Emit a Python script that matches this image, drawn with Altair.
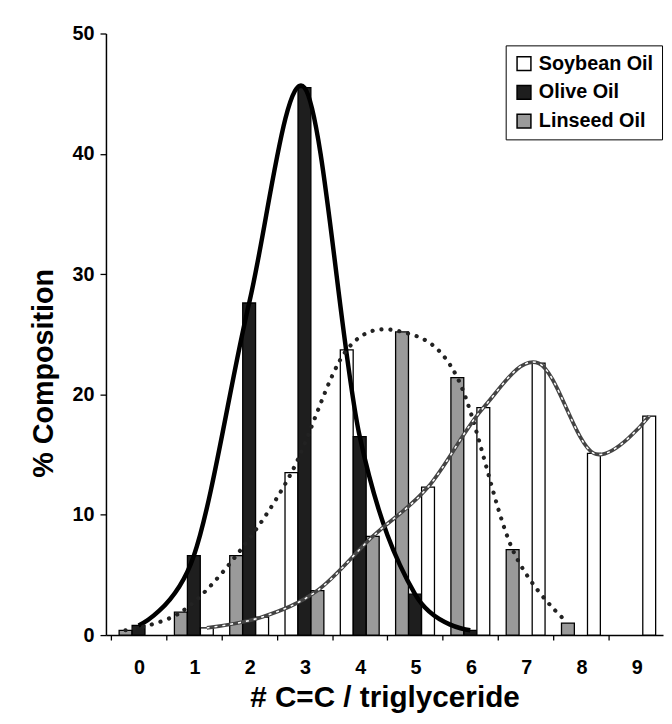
import altair as alt
import pandas as pd

# ---- data ----
categories = [0, 1, 2, 3, 4, 5, 6, 7, 8, 9]
# left bar of each group, follows the dotted curve
linseed_vals = [0.4, 1.9, 6.6, 13.5, 23.7, 25.2, 21.4, 7.1, 1.0, 0.0]
# middle bar of each group, follows the solid curve
olive_vals = [0.8, 6.6, 27.6, 45.5, 16.5, 3.4, 0.4, 0.0, 0.0, 0.0]
# right bar of each group, follows the dashed curve
soybean_vals = [0.0, 0.6, 1.5, 3.7, 8.2, 12.3, 18.9, 22.6, 15.1, 18.2]
# categories in which the figure shows the outer two fills exchanged
swapped_fill_cats = [3, 4]
# categories spanned by each smoothed curve
linseed_curve_cats = [0, 1, 2, 3, 4, 5, 6, 7, 8]
olive_curve_cats = [0, 1, 2, 3, 4, 5, 6]
soybean_curve_cats = [1, 2, 3, 4, 5, 6, 7, 8, 9]

legend_names = ["Soybean Oil", "Olive Oil", "Linseed Oil"]
slot_of = {"Linseed Oil": -1, "Olive Oil": 0, "Soybean Oil": 1}
series_vals = {"Linseed Oil": linseed_vals, "Olive Oil": olive_vals, "Soybean Oil": soybean_vals}
other = {"Linseed Oil": "Soybean Oil", "Soybean Oil": "Linseed Oil", "Olive Oil": "Olive Oil"}

bar_rows = []
for i, c in enumerate(categories):
    for name in ["Linseed Oil", "Olive Oil", "Soybean Oil"]:
        v = series_vals[name][i]
        if v <= 0:
            continue
        fill = other[name] if c in swapped_fill_cats else name
        bar_rows.append(dict(category=c, slot=slot_of[name], series=name, value=v, fill=fill))
bars_df = pd.DataFrame(bar_rows)

line_rows = []
for name, cats in [("Linseed Oil", linseed_curve_cats), ("Olive Oil", olive_curve_cats),
                   ("Soybean Oil", soybean_curve_cats)]:
    for c in cats:
        line_rows.append(dict(category=c, slot=slot_of[name], series=name,
                              value=series_vals[name][categories.index(c)]))
lines_df = pd.DataFrame(line_rows)

FONT = "Liberation Sans"
OFF = 0.235

xscale = alt.Scale(domain=[-0.5, 9.395], nice=False, zero=False)
yscale = alt.Scale(domain=[0, 50], nice=False)

xaxis = alt.Axis(values=[-0.5, 0.5, 1.5, 2.5, 3.5, 4.5, 5.5, 6.5, 7.5, 8.5],
                 labelExpr="format(datum.value + 0.5, 'd')", labelOffset=28.5,
                 title="# C=C / triglyceride", grid=False, tickSize=5,
                 labelPadding=18, titlePadding=5, titleFontSize=30)
yaxis = alt.Axis(values=[0, 10, 20, 30, 40, 50], title="% Composition", grid=False,
                 tickSize=6, labelPadding=6, titlePadding=14, titleFontSize=29,
                 titleY=343)

base_x = alt.X("xpos:Q", scale=xscale, axis=xaxis)
base_y = alt.Y("value:Q", scale=yscale, axis=yaxis)

bars = alt.Chart(bars_df).transform_calculate(
    xpos=f"datum.category + datum.slot * {OFF}"
).mark_bar(size=13, stroke="black", strokeWidth=1.3).encode(
    x=base_x,
    y=base_y,
    color=alt.Color("fill:N", scale=alt.Scale(domain=legend_names,
                                              range=["white", "#1e1e1e", "#9a9a9a"]),
                    legend=alt.Legend(title=None, orient="none", legendX=404, legendY=12,
                                      symbolType="square", symbolSize=196,
                                      symbolStrokeColor="black", symbolStrokeWidth=1.5,
                                      labelFont=FONT, labelFontSize=20, labelFontWeight="bold",
                                      labelColor="black", strokeColor="black",
                                      fillColor="white", padding=8.5, rowPadding=9,
                                      labelOffset=5, labelExpr="datum.label + '  '")),
)

line_base = alt.Chart(lines_df).transform_calculate(
    xpos=f"datum.category + datum.slot * {OFF}"
)

olive_line = line_base.transform_filter(alt.datum.series == "Olive Oil").mark_line(
    interpolate="cardinal", tension=0, color="black", strokeWidth=4.5
).encode(x=base_x, y=base_y)

lin_line = line_base.transform_filter(alt.datum.series == "Linseed Oil").mark_line(
    interpolate="cardinal", tension=0, color="#222", strokeWidth=4.2, strokeDash=[0.1, 9],
    strokeCap="round"
).encode(x=base_x, y=base_y)

soy_under = line_base.transform_filter(alt.datum.series == "Soybean Oil").mark_line(
    interpolate="cardinal", tension=0, color="#444", strokeWidth=3.8
).encode(x=base_x, y=base_y)

soy_over = line_base.transform_filter(alt.datum.series == "Soybean Oil").mark_line(
    interpolate="cardinal", tension=0, color="white", strokeWidth=1.5, strokeDash=[3, 5]
).encode(x=base_x, y=base_y)

chart = alt.layer(bars, olive_line, lin_line, soy_under, soy_over).properties(
    width=563, height=608,
    padding={"left": 99, "top": 22, "right": 1, "bottom": 78},
    autosize="none",
).configure_view(strokeWidth=0).configure_axis(
    domainColor="black", domainWidth=1.5, tickColor="black", tickWidth=1.3,
    labelFont=FONT, labelFontSize=20, labelFontWeight="bold", labelColor="black",
    titleFont=FONT, titleFontWeight="bold", titleColor="black",
)

chart.save("out.html", embed_options={"renderer": "svg", "actions": False})
